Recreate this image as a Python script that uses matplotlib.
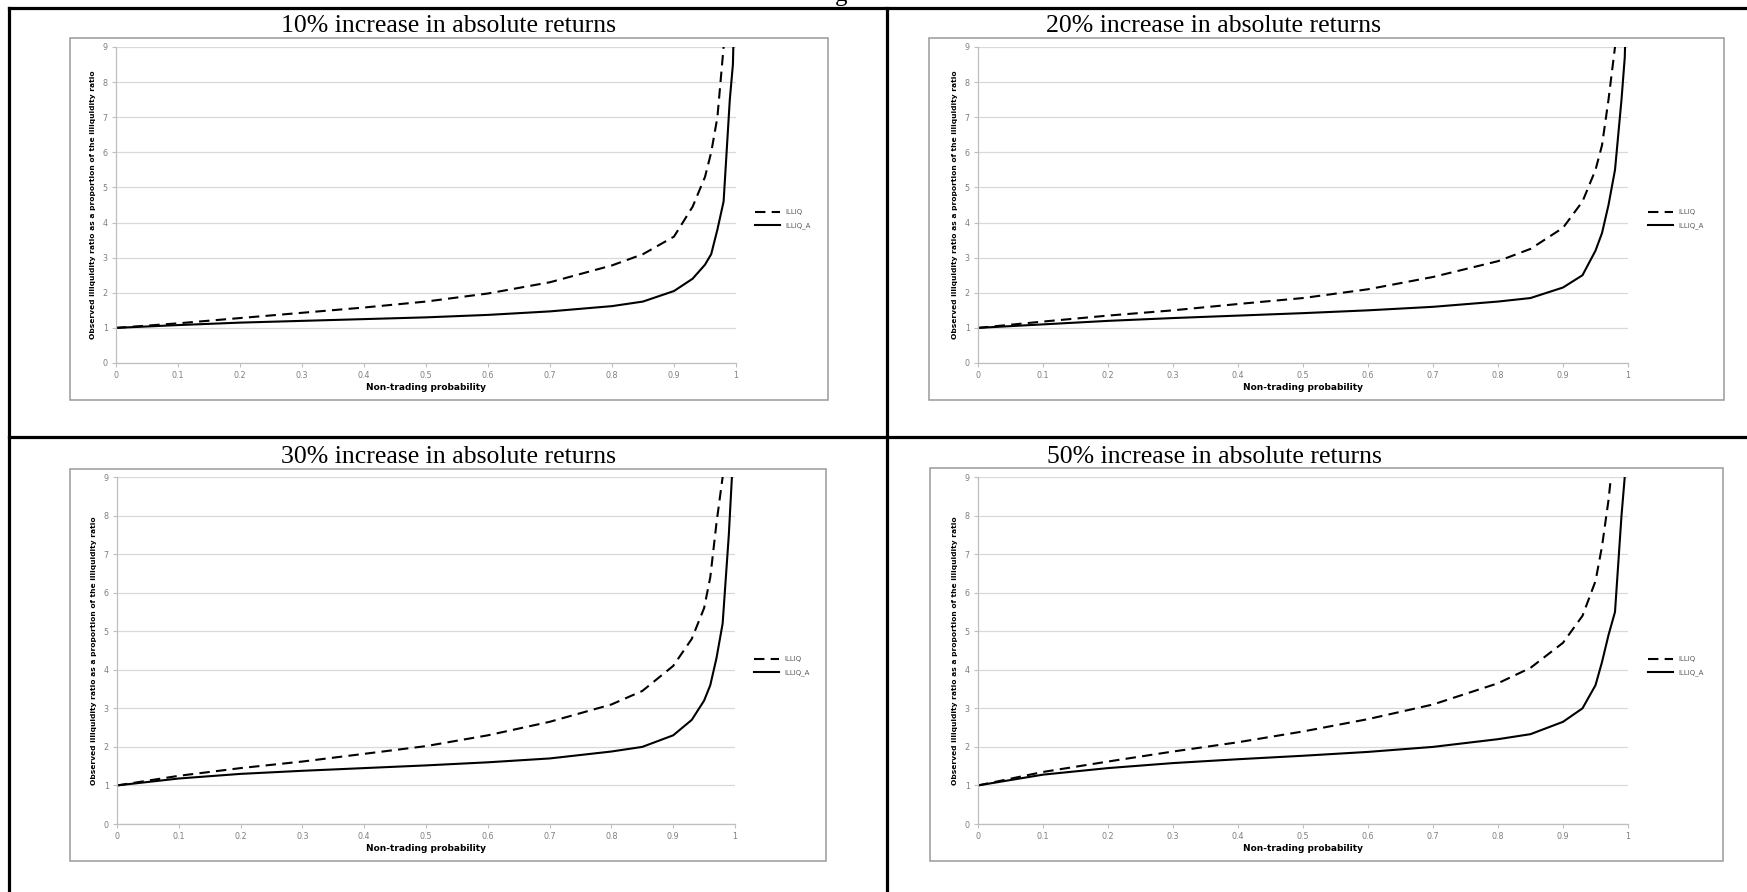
import matplotlib
matplotlib.use('Agg')
import matplotlib.pyplot as plt
from matplotlib.lines import Line2D
from matplotlib.patches import Rectangle

W, H = 1747, 892

# data (non-trading probability vs ratio)
prob = [0, 0.1, 0.2, 0.3, 0.4, 0.5, 0.6, 0.7, 0.8, 0.85, 0.9, 0.93, 0.95, 0.96, 0.97, 0.98, 0.99, 0.995, 1.0]

titles = ['10% increase in absolute returns', '20% increase in absolute returns',
          '30% increase in absolute returns', '50% increase in absolute returns']

illiq_10 = [1.0, 1.13, 1.28, 1.43, 1.58, 1.75, 1.98, 2.3, 2.78, 3.1, 3.6, 4.45, 5.3, 6.0, 7.0, 9.0, 12, 15, 20]
illiq_a_10 = [1.0, 1.08, 1.15, 1.2, 1.25, 1.3, 1.37, 1.47, 1.62, 1.75, 2.05, 2.4, 2.8, 3.1, 3.8, 4.6, 7.5, 8.5, 12]

illiq_20 = [1.0, 1.18, 1.35, 1.5, 1.68, 1.85, 2.1, 2.45, 2.9, 3.25, 3.85, 4.6, 5.5, 6.2, 7.5, 9.0, 12, 15, 20]
illiq_a_20 = [1.0, 1.1, 1.2, 1.28, 1.35, 1.42, 1.5, 1.6, 1.75, 1.85, 2.15, 2.5, 3.2, 3.7, 4.5, 5.5, 7.5, 8.7, 12]

illiq_30 = [1.0, 1.25, 1.45, 1.62, 1.82, 2.02, 2.3, 2.65, 3.1, 3.45, 4.1, 4.8, 5.6, 6.4, 7.8, 9.0, 12, 15, 20]
illiq_a_30 = [1.0, 1.18, 1.3, 1.38, 1.45, 1.52, 1.6, 1.7, 1.88, 2.0, 2.3, 2.7, 3.2, 3.6, 4.3, 5.2, 7.5, 9.0, 12]

illiq_50 = [1.0, 1.35, 1.62, 1.88, 2.12, 2.4, 2.72, 3.1, 3.65, 4.05, 4.7, 5.4, 6.3, 7.2, 8.4, 10, 12, 15, 20]
illiq_a_50 = [1.0, 1.28, 1.45, 1.58, 1.68, 1.77, 1.87, 2.0, 2.2, 2.33, 2.65, 3.0, 3.6, 4.2, 4.9, 5.5, 8.0, 9.0, 12]

series = [(illiq_10, illiq_a_10), (illiq_20, illiq_a_20), (illiq_30, illiq_a_30), (illiq_50, illiq_a_50)]

# pixel layout: axes (x0, x1, ytop, ybottom), chart box, title centre
axes_px = [(116, 736, 47, 363), (978, 1628, 47, 363), (117, 735, 477, 824), (978, 1628, 477, 824)]
box_px = [(70, 38, 828, 400), (929, 38, 1724, 400), (70, 469, 826, 861), (930, 468, 1723, 861)]
title_px = [(448, 26), (1214, 26), (448, 457), (1214, 457)]

fig = plt.figure(figsize=(W / 100, H / 100), dpi=100)
fig.patch.set_facecolor('white')


def fx(x):
    return x / W


def fy(y):
    return 1 - y / H


# table grid
tl = dict(color='black', lw=2.3, transform=fig.transFigure)
fig.add_artist(Line2D([fx(9), 1], [fy(8), fy(8)], **tl))
fig.add_artist(Line2D([fx(9), 1], [fy(437), fy(437)], **tl))
fig.add_artist(Line2D([fx(9), fx(9)], [fy(8), 0], **tl))
fig.add_artist(Line2D([fx(887), fx(887)], [fy(8), 0], **tl))

# cut-off heading above the table (only the descender shows)
fig.text(fx(841), fy(1), 'g', family='Liberation Serif', fontsize=18, ha='center', va='baseline')

for i in range(4):
    bx0, by0, bx1, by1 = box_px[i]
    fig.add_artist(Rectangle((fx(bx0), fy(by1)), (bx1 - bx0) / W, (by1 - by0) / H,
                             transform=fig.transFigure, fill=False, edgecolor='#9a9a9a', lw=1.1))
    tx, ty = title_px[i]
    fig.text(fx(tx), fy(ty), titles[i], family='Liberation Serif', fontsize=18.5, ha='center', va='center')

    x0, x1, yt, yb = axes_px[i]
    ax = fig.add_axes([fx(x0), fy(yb), (x1 - x0) / W, (yb - yt) / H])
    d, s = series[i]
    ax.plot(prob, d, color='black', lw=1.5, dashes=(5, 3), label='ILLIQ')
    ax.plot(prob, s, color='black', lw=1.5, label='ILLIQ_A')
    ax.set_xlim(0, 1)
    ax.set_ylim(0, 9)
    ax.set_xticks([k / 10 for k in range(11)])
    ax.set_xticklabels(['0', '0.1', '0.2', '0.3', '0.4', '0.5', '0.6', '0.7', '0.8', '0.9', '1'])
    ax.set_yticks(range(10))
    ax.yaxis.grid(True, color='#d9d9d9', lw=0.9)
    ax.set_axisbelow(True)
    for sp in ['top', 'right']:
        ax.spines[sp].set_visible(False)
    for sp in ['left', 'bottom']:
        ax.spines[sp].set_color('#bfbfbf')
        ax.spines[sp].set_linewidth(0.9)
    ax.tick_params(labelsize=5.8, labelcolor='#7f7f7f', color='#bfbfbf', length=3, width=0.8, pad=3)
    ax.set_xlabel('Non-trading probability', fontsize=6.5, fontweight='bold', labelpad=2)
    ax.set_ylabel('Observed illiquidity ratio as a proportion of the illiquidity ratio',
                  fontsize=5.4, fontweight='bold', labelpad=5)
    ax.legend(loc='center left', bbox_to_anchor=(1.025, 0.455), frameon=False, fontsize=5,
              handlelength=3.6, handletextpad=0.8, labelspacing=1.0, borderpad=0, labelcolor='#595959')

fig.savefig('out.png', dpi=100)
